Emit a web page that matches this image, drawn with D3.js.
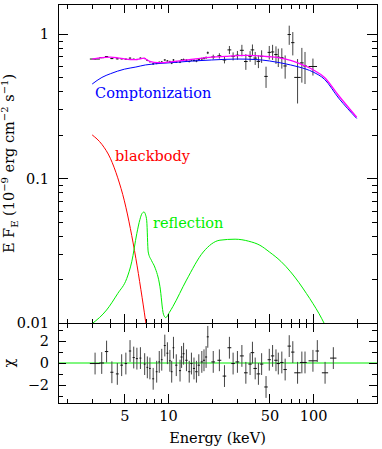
<!DOCTYPE html>
<html>
<head>
<meta charset="utf-8">
<script src="https://cdn.jsdelivr.net/npm/d3@7"></script>
<style>
  body { margin: 0; background: #fff; }
  svg text { font-family: "DejaVu Serif", serif; font-size: 14.5px; }
</style>
</head>
<body>
<svg id="chart" width="382" height="449"></svg>
<script>
// model components (keV, E F_E)
var comptE = [3, 3.5, 4, 5, 6, 7, 8, 10, 15, 20, 30, 40, 50, 60, 70, 80, 100, 120, 150, 200];
var comptF = [0.45, 0.50, 0.53, 0.57, 0.59, 0.61, 0.62, 0.63, 0.65, 0.66, 0.67, 0.665, 0.65, 0.63, 0.61, 0.59, 0.545, 0.485, 0.36, 0.26];

var totalE = [3, 3.5, 4, 4.5, 5, 5.5, 6, 6.4, 6.8, 7.1, 7.5, 8, 9, 10, 12, 15, 20, 25, 30, 35, 40, 50, 60, 70, 80, 100, 120, 150, 200];
var totalF = [0.67, 0.685, 0.69, 0.683, 0.672, 0.665, 0.663, 0.672, 0.68, 0.665, 0.645, 0.636, 0.632, 0.638, 0.65, 0.668, 0.69, 0.70, 0.708, 0.71, 0.707, 0.695, 0.68, 0.655, 0.625, 0.565, 0.50, 0.375, 0.265];

var bbE = [3, 3.5, 4, 4.5, 5, 5.5, 6, 6.5, 7, 7.5];
var bbF = [0.20, 0.172, 0.138, 0.101, 0.070, 0.045, 0.028, 0.017, 0.0103, 0.006];

var reflE = [3.0, 3.77, 4.5, 5.19, 5.62, 6.09, 6.4, 6.6, 6.83, 7.0, 7.13, 7.3, 7.7, 8.1, 8.8, 9.3, 9.65, 10.2, 10.8, 13.4, 17.5, 22.8, 29, 36, 43, 50, 60, 70, 80, 90, 100, 110, 119, 130];
var reflF = [0.0099, 0.0123, 0.016, 0.0203, 0.0265, 0.0415, 0.052, 0.057, 0.0586, 0.056, 0.051, 0.031, 0.027, 0.0244, 0.0178, 0.0115, 0.0109, 0.0118, 0.013, 0.0198, 0.031, 0.0374, 0.038, 0.0368, 0.0345, 0.031, 0.0267, 0.0226, 0.019, 0.016, 0.0136, 0.0116, 0.0100, 0.0084];

// spectrum bins
var binE = [3.14, 3.49, 3.77, 4.1, 4.47, 4.79, 5.12, 5.47, 5.8, 6.1,
  6.45, 6.9, 7.2, 7.5, 7.9, 8.35, 8.7, 9.05, 9.5, 9.9,
  10.3, 10.6, 10.9, 11.4, 12.1, 12.4, 12.8, 13.4, 14.0, 14.5,
  15.1, 15.7, 16.3, 17.1, 17.7, 18.3, 18.8, 20.5, 22.6, 24.5,
  26.5, 28.1, 30.1, 32.3, 34.4, 36.8, 38.2, 39.9, 42, 44.2,
  47.4, 49.9, 52.6, 55.5, 57.6, 60.9, 64.2, 68.5, 72.5, 78.2,
  83.7, 88, 99.8, 107, 121, 138];
var binHalf = [0.25, 0.13, 0.1, 0.1, 0.1, 0.1, 0.1, 0.1, 0.1, 0.1,
  0.1, 0.1, 0.1, 0.1, 0.12, 0.12, 0.12, 0.12, 0.15, 0.15,
  0.15, 0.15, 0.15, 0.2, 0.2, 0.2, 0.2, 0.25, 0.25, 0.25,
  0.25, 0.3, 0.3, 0.3, 0.3, 0.3, 0.3, 0.6, 0.7, 0.7,
  0.8, 0.8, 0.9, 1.0, 1.0, 1.0, 1.1, 1.1, 1.2, 1.2,
  1.3, 1.3, 1.4, 1.5, 1.5, 1.6, 1.7, 1.8, 1.9, 4,
  2.5, 2.5, 6.7, 3, 6, 7];
var flux = [0.67, 0.685, 0.697, 0.675, 0.672, 0.672, 0.668, 0.68, 0.668, 0.665,
  0.68, 0.676, 0.655, 0.642, 0.62, 0.625, 0.636, 0.64, 0.66, 0.65,
  0.642, 0.628, 0.66, 0.64, 0.638, 0.66, 0.665, 0.658, 0.645, 0.66,
  0.655, 0.65, 0.664, 0.672, 0.678, 0.685, 0.74, 0.693, 0.705, 0.66,
  0.775, 0.70, 0.712, 0.77, 0.644, 0.70, 0.775, 0.68, 0.645, 0.70,
  0.508, 0.745, 0.75, 0.72, 0.69, 0.685, 0.60, 0.99, 0.87, 0.50,
  0.63, 0.60, 0.595, null, null, null];
var fluxErr = [0.006, 0.006, 0.006, 0.006, 0.006, 0.006, 0.006, 0.006, 0.006, 0.006,
  0.007, 0.007, 0.007, 0.007, 0.008, 0.008, 0.008, 0.008, 0.008, 0.008,
  0.01, 0.01, 0.01, 0.01, 0.01, 0.01, 0.01, 0.01, 0.01, 0.01,
  0.013, 0.013, 0.013, 0.013, 0.013, 0.013, 0.015, 0.025, 0.03, 0.035,
  0.05, 0.045, 0.05, 0.07, 0.08, 0.06, 0.07, 0.07, 0.065, 0.07,
  0.085, 0.08, 0.09, 0.1, 0.1, 0.11, 0.11, 0.15, 0.16, 0.17,
  0.17, 0.15, 0.08, null, null, null];
var chi = [-0.05, 0.0, 1.05, -0.85, -1.0, -0.2, -0.05, 1.1, 0.5, 0.4,
  0.45, -0.1, -0.4, -0.5, -1.45, -0.8, 0.1, 0.3, 1.6, 0.9,
  0.2, -0.8, 1.4, -0.2, -0.7, 0.55, 0.85, 0.25, -0.8, -0.05,
  -0.5, -0.8, -0.2, 0.1, 0.25, 0.55, 2.4, 0.1, 0.25, -1.2,
  1.4, -0.05, 0.1, 0.65, -0.9, -0.1, 0.95, -0.5, -1.0, -0.1,
  -2.2, 0.3, 0.65, 0.25, -0.05, 0.05, -0.6, 1.55, 1.0, -0.9,
  0.05, 0.05, 0.2, 1.1, -0.9, 0.45];

// tick values
var xMajor = [5, 10, 50, 100];
var xMinor = [2, 3, 4, 6, 7, 8, 9, 20, 30, 40, 60, 70, 80, 90, 200];
var yMajor = [0.01, 0.1, 1];
var yMinor = [0.02, 0.03, 0.04, 0.05, 0.06, 0.07, 0.08, 0.09, 0.2, 0.3, 0.4, 0.5, 0.6, 0.7, 0.8, 0.9];
var rMajor = [-2, 0, 2];
var rMinor = [-3, -1, 1, 3];

// component labels: [text, energy, flux, colour]
var compLabels = [
  ["Comptonization", 3.14, 0.362, "#0000ff"],
  ["blackbody", 4.31, 0.131, "#ff0000"],
  ["reflection", 7.88, 0.0452, "#00ee00"]
];

var pLeft = 58, pRight = 377, pTop = 4, pMid = 323, pBottom = 403;

var x = d3.scaleLog().domain([1.743, 276]).range([pLeft, pRight]);
var y = d3.scaleLog().domain([0.01, 1.61]).range([pMid, pTop]);
var yr = d3.scaleLinear().domain([-3.67, 3.67]).range([pBottom, pMid]);

var svg = d3.select("#chart");
var defs = svg.append("defs");
defs.append("clipPath").attr("id", "clipMain")
  .append("rect").attr("x", pLeft).attr("y", pTop).attr("width", pRight - pLeft).attr("height", pMid - pTop);
defs.append("clipPath").attr("id", "clipRes")
  .append("rect").attr("x", pLeft).attr("y", pMid).attr("width", pRight - pLeft).attr("height", pBottom - pMid);

var bins = binE.map(function(e, i) {
  return { e: e, h: binHalf[i], f: flux[i], fe: fluxErr[i], c: chi[i] };
});

// main panel data
var main = svg.append("g").attr("clip-path", "url(#clipMain)");
var spec = bins.filter(function(d) { return d.f != null; });
main.selectAll(".ev").data(spec).enter().append("line")
  .attr("x1", function(d) { return x(d.e); }).attr("x2", function(d) { return x(d.e); })
  .attr("y1", function(d) { return y(d.f - d.fe); }).attr("y2", function(d) { return y(d.f + d.fe); })
  .attr("stroke", "#444").attr("stroke-width", 1);
main.selectAll(".eh").data(spec).enter().append("line")
  .attr("x1", function(d) { return x(d.e - d.h); }).attr("x2", function(d) { return x(d.e + d.h); })
  .attr("y1", function(d) { return y(d.f); }).attr("y2", function(d) { return y(d.f); })
  .attr("stroke", "#111").attr("stroke-width", 1);

// model curves
function curve(es, fs, colour, w) {
  var pts = es.map(function(e, i) { return [e, fs[i]]; });
  main.append("path")
    .attr("d", d3.line()
      .x(function(d) { return x(d[0]); })
      .y(function(d) { return y(d[1]); })
      .curve(d3.curveMonotoneX)(pts))
    .attr("fill", "none").attr("stroke", colour).attr("stroke-width", w);
}
curve(comptE, comptF, "#0000ff", 1);
curve(bbE, bbF, "#ff0000", 1);
curve(reflE, reflF, "#00ee00", 1);
curve(totalE, totalF, "#ff00ff", 1.3);

main.selectAll(".lab").data(compLabels).enter().append("text")
  .attr("x", function(d) { return x(d[1]); })
  .attr("y", function(d) { return y(d[2]); })
  .attr("fill", function(d) { return d[3]; })
  .text(function(d) { return d[0]; });

// residual panel
var res = svg.append("g").attr("clip-path", "url(#clipRes)");
res.append("line")
  .attr("x1", pLeft).attr("x2", pRight).attr("y1", yr(0)).attr("y2", yr(0))
  .attr("stroke", "#00ee00").attr("stroke-width", 1);
res.selectAll(".rv").data(bins).enter().append("line")
  .attr("x1", function(d) { return x(d.e); }).attr("x2", function(d) { return x(d.e); })
  .attr("y1", function(d) { return yr(d.c - 1); }).attr("y2", function(d) { return yr(d.c + 1); })
  .attr("stroke", "#444").attr("stroke-width", 1);
res.selectAll(".rh").data(bins).enter().append("line")
  .attr("x1", function(d) { return x(d.e - d.h); }).attr("x2", function(d) { return x(d.e + d.h); })
  .attr("y1", function(d) { return yr(d.c); }).attr("y2", function(d) { return yr(d.c); })
  .attr("stroke", "#111").attr("stroke-width", 1);

// axes: ticks point inwards, majors longer
function ax(axis, tx, ty, vals, len, fmt, pad) {
  var g = svg.append("g").attr("transform", "translate(" + tx + "," + ty + ")")
    .call(axis.tickValues(vals).tickSize(-len).tickSizeOuter(0)
      .tickPadding(pad || 3).tickFormat(fmt || function() { return ""; }));
  g.select(".domain").remove();
  g.selectAll("line").attr("stroke", "#000").attr("shape-rendering", "crispEdges");
  g.attr("font-family", null).attr("font-size", null);
  g.selectAll("text").attr("fill", "#000");
  return g;
}
var fmtY = function(d) { return d >= 1 ? "1" : d >= 0.1 ? "0.1" : "0.01"; };

ax(d3.axisTop(x), 0, pTop, xMinor, 4.5);
ax(d3.axisTop(x), 0, pTop, xMajor, 9);
ax(d3.axisBottom(x), 0, pMid, xMinor, 4.5);
ax(d3.axisBottom(x), 0, pMid, xMajor, 9);
ax(d3.axisTop(x), 0, pMid, xMinor, 4.5);
ax(d3.axisTop(x), 0, pMid, xMajor, 9);
ax(d3.axisBottom(x), 0, pBottom, xMinor, 4.5);
ax(d3.axisBottom(x), 0, pBottom, xMajor, 9, d3.format("d"), 8);

ax(d3.axisLeft(y), pLeft, 0, yMinor, 5);
ax(d3.axisLeft(y), pLeft, 0, yMajor, 10, fmtY, 9);
ax(d3.axisRight(y), pRight, 0, yMinor, 5);
ax(d3.axisRight(y), pRight, 0, yMajor, 10);

ax(d3.axisLeft(yr), pLeft, 0, rMinor, 5);
ax(d3.axisLeft(yr), pLeft, 0, rMajor, 8, d3.format("d"), 9);
ax(d3.axisRight(yr), pRight, 0, rMinor, 5);
ax(d3.axisRight(yr), pRight, 0, rMajor, 8);

// frames
svg.append("rect").attr("x", pLeft).attr("y", pTop).attr("width", pRight - pLeft).attr("height", pBottom - pTop)
  .attr("fill", "none").attr("stroke", "#000").attr("shape-rendering", "crispEdges");
svg.append("line").attr("x1", pLeft).attr("x2", pRight).attr("y1", pMid).attr("y2", pMid)
  .attr("stroke", "#000").attr("shape-rendering", "crispEdges");

// axis titles
svg.append("text").attr("x", (pLeft + pRight) / 2).attr("y", 443)
  .attr("text-anchor", "middle").text("Energy (keV)");

var yl = svg.append("text").attr("transform", "translate(14," + ((pTop + pMid) / 2) + ") rotate(-90)")
  .attr("text-anchor", "middle");
yl.append("tspan").text("E F");
yl.append("tspan").attr("dy", 4).attr("font-size", "10px").text("E");
yl.append("tspan").attr("dy", -4).text(" (10");
yl.append("tspan").attr("dy", -6).attr("font-size", "10px").text("−9");
yl.append("tspan").attr("dy", 6).text(" erg cm");
yl.append("tspan").attr("dy", -6).attr("font-size", "10px").text("−2");
yl.append("tspan").attr("dy", 6).text(" s");
yl.append("tspan").attr("dy", -6).attr("font-size", "10px").text("−1");
yl.append("tspan").attr("dy", 6).text(")");

svg.append("text").attr("transform", "translate(14," + yr(0) + ") rotate(-90)")
  .attr("text-anchor", "middle").text("χ");
</script>
</body>
</html>
